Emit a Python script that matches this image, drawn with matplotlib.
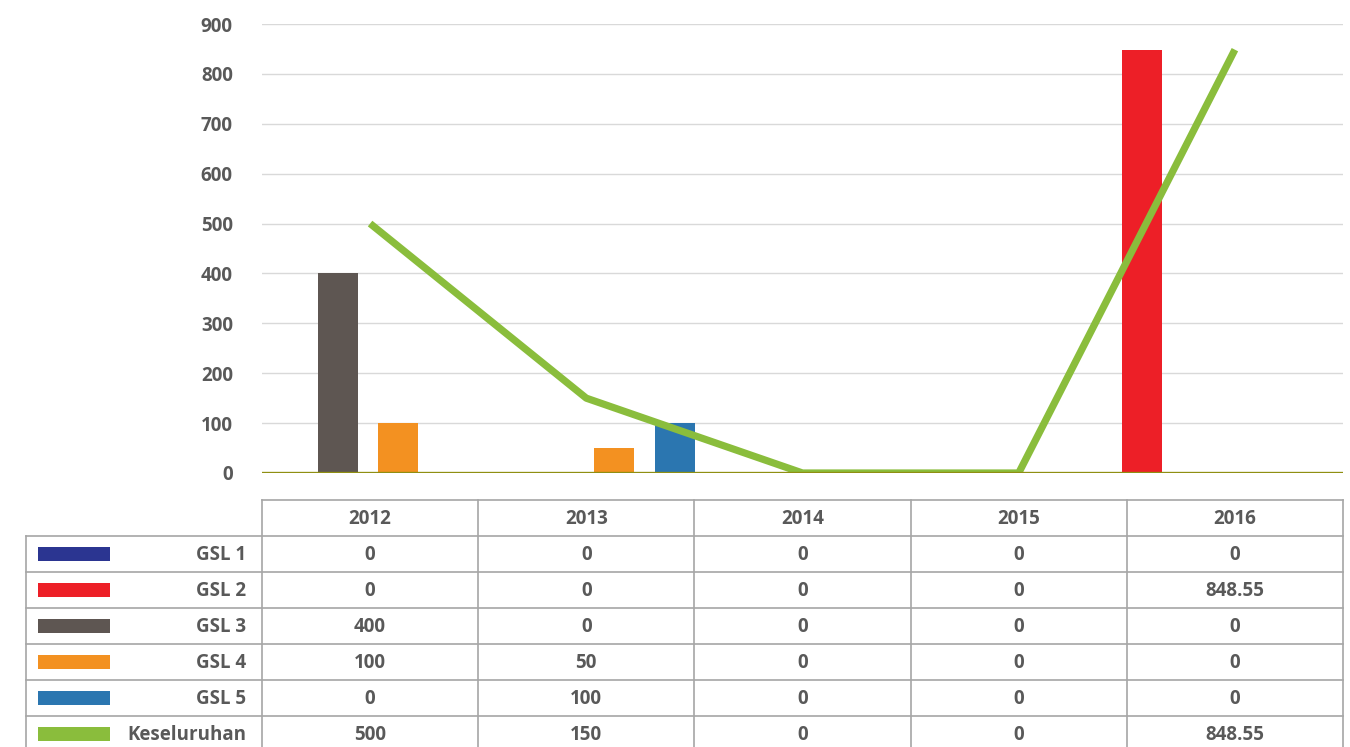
import matplotlib
matplotlib.use("Agg")
import matplotlib.pyplot as plt
import numpy as np

plt.rcParams['font.family'] = ['Open Sans', 'DejaVu Sans']

years = ['2012', '2013', '2014', '2015', '2016']
series = ['GSL 1', 'GSL 2', 'GSL 3', 'GSL 4', 'GSL 5']
gsl1 = [0, 0, 0, 0, 0]
gsl2 = [0, 0, 0, 0, 848.55]
gsl3 = [400, 0, 0, 0, 0]
gsl4 = [100, 50, 0, 0, 0]
gsl5 = [0, 100, 0, 0, 0]
total = [500, 150, 0, 0, 848.55]
total_label = 'Keseluruhan'

colors = ['#2b3591', '#ed1f27', '#5e5652', '#f39121', '#2b76b0']
line_color = '#8abd3c'
text_color = '#595959'
grid_color = '#d9d9d9'
border = '#a6a6a6'

W, H = 1350, 747
fig = plt.figure(figsize=(W / 100, H / 100), dpi=100)
fig.patch.set_facecolor('white')

ax = fig.add_axes([262 / W, (H - 473) / H, (1343 - 262) / W, (473 - 24) / H])
x = np.arange(len(years))
slot = 0.28
bw = 0.185
shift = -0.15
for k, vals in enumerate([gsl1, gsl2, gsl3, gsl4, gsl5]):
    ax.bar(x + shift + (k - 2) * slot, vals, width=bw, color=colors[k], zorder=2)
ax.plot(x, total, color=line_color, lw=5.2, zorder=3, solid_capstyle='butt')

ax.set_xlim(-0.5, len(years) - 0.5)
ax.set_ylim(0, 900)
ax.set_yticks(range(0, 901, 100))
ax.yaxis.grid(True, color=grid_color, lw=1, zorder=0)
ax.set_axisbelow(True)
ax.axhline(0, color='#8f8f12', lw=2.4, zorder=4)
for s in ax.spines.values():
    s.set_visible(False)
ax.set_xticks([])
ax.tick_params(axis='y', length=0, pad=21, labelsize=13.5, labelcolor=text_color)
for lbl in ax.get_yticklabels():
    lbl.set_fontweight('bold')
ax.patch.set_alpha(0)

# data table below, in figure pixel coordinates
fig.canvas.draw()
tax = fig.add_axes([0, 0, 1, 1])
tax.set_xlim(0, W)
tax.set_ylim(H, 0)
tax.axis('off')
tax.patch.set_alpha(0)

edges = [ax.transData.transform((i - 0.5, 0))[0] for i in range(len(years) + 1)]
left = 26
top = 500
rh = 36
rows = series + [total_label]
table = [gsl1, gsl2, gsl3, gsl4, gsl5, total]
nrows = len(rows) + 1
bottom = top + rh * nrows

def fmt(v):
    return ('%g' % v) if v != int(v) else str(int(v))

kw = dict(color=border, lw=1.2)
# header row
tax.plot([edges[0], edges[-1]], [top, top], **kw)
for e in edges:
    tax.plot([e, e], [top, bottom], **kw)
tax.plot([left, left], [top + rh, bottom], **kw)
for r in range(1, nrows + 1):
    tax.plot([left, edges[-1]], [top + r * rh, top + r * rh], **kw)

tkw = dict(color=text_color, fontsize=13.5, fontweight='bold', va='center')
for j, yr in enumerate(years):
    tax.text((edges[j] + edges[j + 1]) / 2, top + rh / 2 + 1, yr, ha='center', **tkw)
for i, name in enumerate(rows):
    yc = top + rh * (i + 1) + rh / 2
    c = colors[i] if i < len(series) else line_color
    tax.add_patch(plt.Rectangle((38, yc - 7), 72, 14, color=c, lw=0))
    tax.text(edges[0] - 16, yc + 1, name, ha='right', **tkw)
    for j in range(len(years)):
        tax.text((edges[j] + edges[j + 1]) / 2, yc + 1, fmt(table[i][j]), ha='center', **tkw)

fig.savefig('out.png', dpi=100)
